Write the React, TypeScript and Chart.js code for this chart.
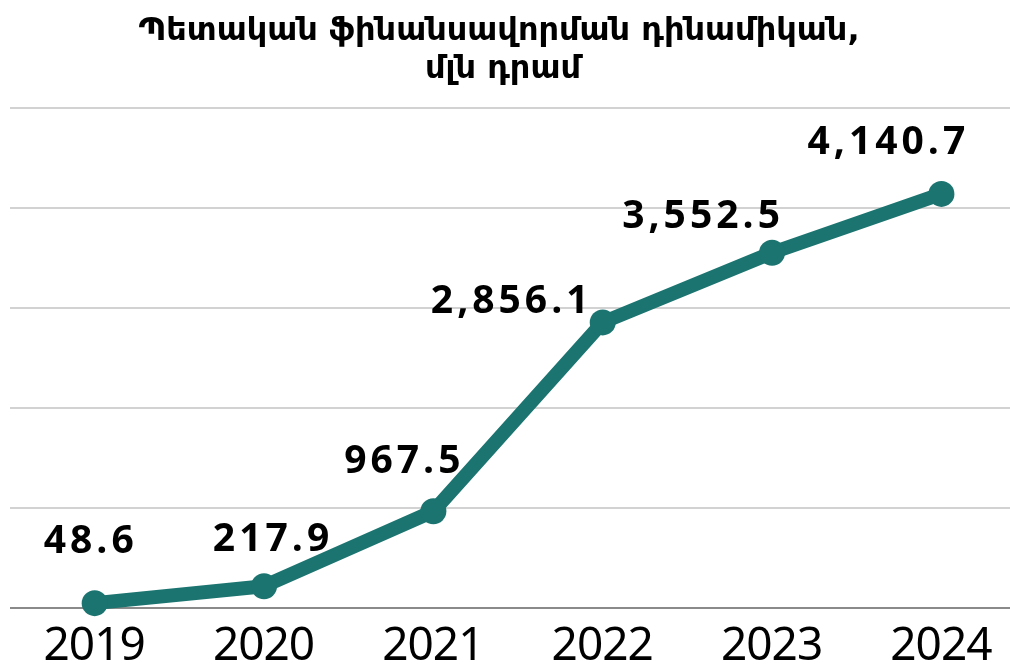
import React, { useEffect, useRef } from "react";
import { Chart, registerables } from "chart.js";

Chart.register(...registerables);

const categories = ["2019", "2020", "2021", "2022", "2023", "2024"];
const values = [48.6, 217.9, 967.5, 2856.1, 3552.5, 4140.7];
const valueLabels = ["48.6", "217.9", "967.5", "2,856.1", "3,552.5", "4,140.7"];
const yMin = 0;
const yMax = 5000;
const yStep = 1000;
const titleLines = ["Պետական ֆինանսավորման դինամիկան,", "մլն դրամ"];

// label placement relative to each point (style, not data)
const labelOffsets: [number, number][] = [
  [-6, -50],
  [7, -35],
  [-31, -38],
  [-93, -9],
  [-71, -25],
  [-55, -40],
];

const LINE_COLOR = "#1b7470";

const overlayPlugin = {
  id: "overlay",
  afterDraw(chart: any) {
    const ctx = chart.ctx as CanvasRenderingContext2D;
    const xs = chart.scales.x;
    const ys = chart.scales.y;
    ctx.save();
    // title
    ctx.fillStyle = "#000";
    ctx.textAlign = "center";
    ctx.textBaseline = "alphabetic";
    ctx.font = 'bold 32px "DejaVu Sans", sans-serif';
    (ctx as any).letterSpacing = "0px";
    ctx.fillText(titleLines[0], 499, 40);
    ctx.fillText(titleLines[1], 503, 78);

    // x labels
    ctx.font = '46px "Noto Sans", "Open Sans", sans-serif';
    (ctx as any).letterSpacing = "-1px";
    categories.forEach((c, i) => {
      const x = xs.getPixelForValue(i);
      ctx.fillText(c, x - 0.5, 660);
    });

    // value labels
    ctx.font = 'bold 39px "Open Sans", "Noto Sans", sans-serif';
    (ctx as any).letterSpacing = "4px";
    values.forEach((v, i) => {
      const x = xs.getPixelForValue(i);
      const y = ys.getPixelForValue(v);
      const [dx, dy] = labelOffsets[i];
      ctx.fillText(valueLabels[i], x + dx + 2, y + dy);
    });
    ctx.restore();
  },
};

export default function App() {
  const ref = useRef<HTMLCanvasElement | null>(null);
  useEffect(() => {
    if (!ref.current) return;
    const chart = new Chart(ref.current, {
      type: "line",
      data: {
        datasets: [
          {
            data: values.map((v, i) => ({ x: i, y: v })),
            borderColor: LINE_COLOR,
            backgroundColor: LINE_COLOR,
            borderWidth: 14,
            pointRadius: 13,
            pointBackgroundColor: LINE_COLOR,
            pointBorderColor: LINE_COLOR,
            pointBorderWidth: 0,
            tension: 0,
            borderJoinStyle: "round",
            borderCapStyle: "round",
            clip: false,
          } as any,
        ],
      },
      options: {
        animation: false,
        responsive: false,
        events: [],
        layout: { autoPadding: false, padding: { top: 108, bottom: 61, left: 10, right: 0 } },
        plugins: {
          legend: { display: false },
          title: { display: false },
          tooltip: { enabled: false },
        },
        scales: {
          x: {
            type: "linear",
            min: -0.5,
            max: 5.405,
            ticks: { display: false },
            grid: { display: false, drawTicks: false },
            border: { display: false },
          },
          y: {
            min: yMin,
            max: yMax,
            ticks: { display: false, stepSize: yStep },
            grid: {
              drawTicks: false,
              lineWidth: 2,
              color: (c: any) => (c.tick && c.tick.value === 0 ? "#8a8a8a" : "#d2d2d2"),
            },
            border: { display: false },
          },
        },
      } as any,
      plugins: [overlayPlugin],
    });
    return () => chart.destroy();
  }, []);
  return (
    <div style={{ position: "fixed", left: 0, top: 0, width: 1010, height: 669, background: "#fff" }}>
      <canvas ref={ref} width={1010} height={669} style={{ width: 1010, height: 669, display: "block" }} />
    </div>
  );
}
